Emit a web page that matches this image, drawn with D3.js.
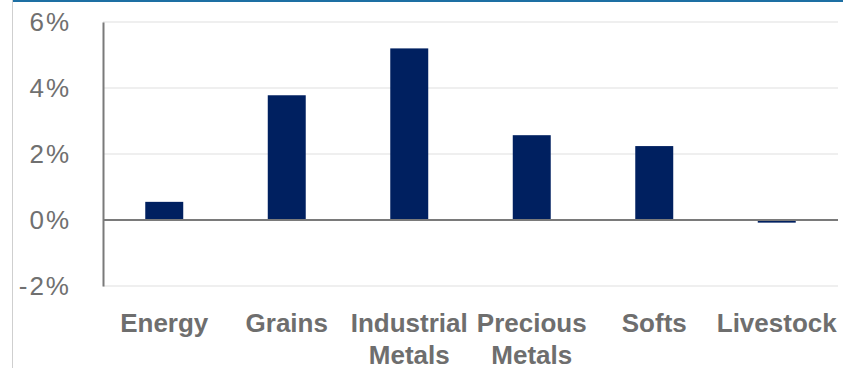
<!DOCTYPE html>
<html>
<head>
<meta charset="utf-8">
<script src="https://cdn.jsdelivr.net/npm/d3@7"></script>
<style>
  html, body { margin: 0; padding: 0; background: #fff; }
  svg { display: block; }
</style>
</head>
<body>
<svg id="chart"></svg>
<script>
var width = 852;
var height = 368;

// data
var categories = ['Energy', 'Grains', 'Industrial Metals', 'Precious Metals', 'Softs', 'Livestock'];
var labelLines = [['Energy'], ['Grains'], ['Industrial', 'Metals'], ['Precious', 'Metals'], ['Softs'], ['Livestock']];
var values = [0.55, 3.78, 5.2, 2.57, 2.24, -0.08];
var yTicks = [-2, 0, 2, 4, 6];

var margin = { top: 22, right: 14, bottom: 82, left: 103 };

var svg = d3.select('#chart')
  .attr('width', width)
  .attr('height', height);

// frame bits: blue top rule and light left rule
svg.append('line')
  .attr('x1', 12).attr('x2', 843)
  .attr('y1', 1).attr('y2', 1)
  .attr('stroke', '#1d6fa3')
  .attr('stroke-width', 2);
svg.append('line')
  .attr('x1', 12.5).attr('x2', 12.5)
  .attr('y1', 0).attr('y2', height)
  .attr('stroke', '#cfcfcf')
  .attr('stroke-width', 1);

var x = d3.scaleBand()
  .domain(categories)
  .range([margin.left, width - margin.right])
  .paddingInner(0.69)
  .paddingOuter(0.345);

var y = d3.scaleLinear()
  .domain([-2, 6])
  .range([height - margin.bottom, margin.top]);

// gridlines
svg.append('g')
  .selectAll('line')
  .data(yTicks.filter(function(d) { return d !== 0; }))
  .join('line')
  .attr('x1', margin.left)
  .attr('x2', width - margin.right)
  .attr('y1', function(d) { return y(d); })
  .attr('y2', function(d) { return y(d); })
  .attr('stroke', '#efefef')
  .attr('stroke-width', 2);

// bars
svg.append('g')
  .selectAll('rect')
  .data(values)
  .join('rect')
  .attr('x', function(d, i) { return x(categories[i]); })
  .attr('width', x.bandwidth())
  .attr('y', function(d) { return y(Math.max(0, d)); })
  .attr('height', function(d) { return Math.abs(y(d) - y(0)); })
  .attr('fill', '#002060');

// zero line
svg.append('line')
  .attr('x1', margin.left)
  .attr('x2', width - margin.right)
  .attr('y1', y(0))
  .attr('y2', y(0))
  .attr('stroke', '#7a7a7a')
  .attr('stroke-width', 2);

// y axis
var yAxis = d3.axisLeft(y)
  .tickValues(yTicks)
  .tickSize(0)
  .tickPadding(32)
  .tickFormat(function(d) { return d + '%'; });

var gy = svg.append('g')
  .attr('transform', 'translate(' + margin.left + ',0)')
  .call(yAxis);
gy.select('.domain')
  .attr('stroke', '#7a7a7a')
  .attr('stroke-width', 2);
gy.selectAll('text')
  .attr('fill', '#707070')
  .style('font-family', 'Liberation Sans, Arial, sans-serif')
  .style('font-size', '26px')
  .style('letter-spacing', '2px');

// category labels
var gx = svg.append('g')
  .selectAll('text')
  .data(labelLines)
  .join('text')
  .attr('text-anchor', 'middle')
  .attr('fill', '#6e6e6e')
  .style('font-family', 'Liberation Sans, Arial, sans-serif')
  .style('font-size', '26px')
  .style('font-weight', 'bold');

gx.each(function(lines, i) {
  var cx = x(categories[i]) + x.bandwidth() / 2;
  d3.select(this).selectAll('tspan')
    .data(lines)
    .join('tspan')
    .attr('x', cx)
    .attr('y', function(d, j) { return 332 + j * 32; })
    .text(function(d) { return d; });
});
</script>
</body>
</html>
